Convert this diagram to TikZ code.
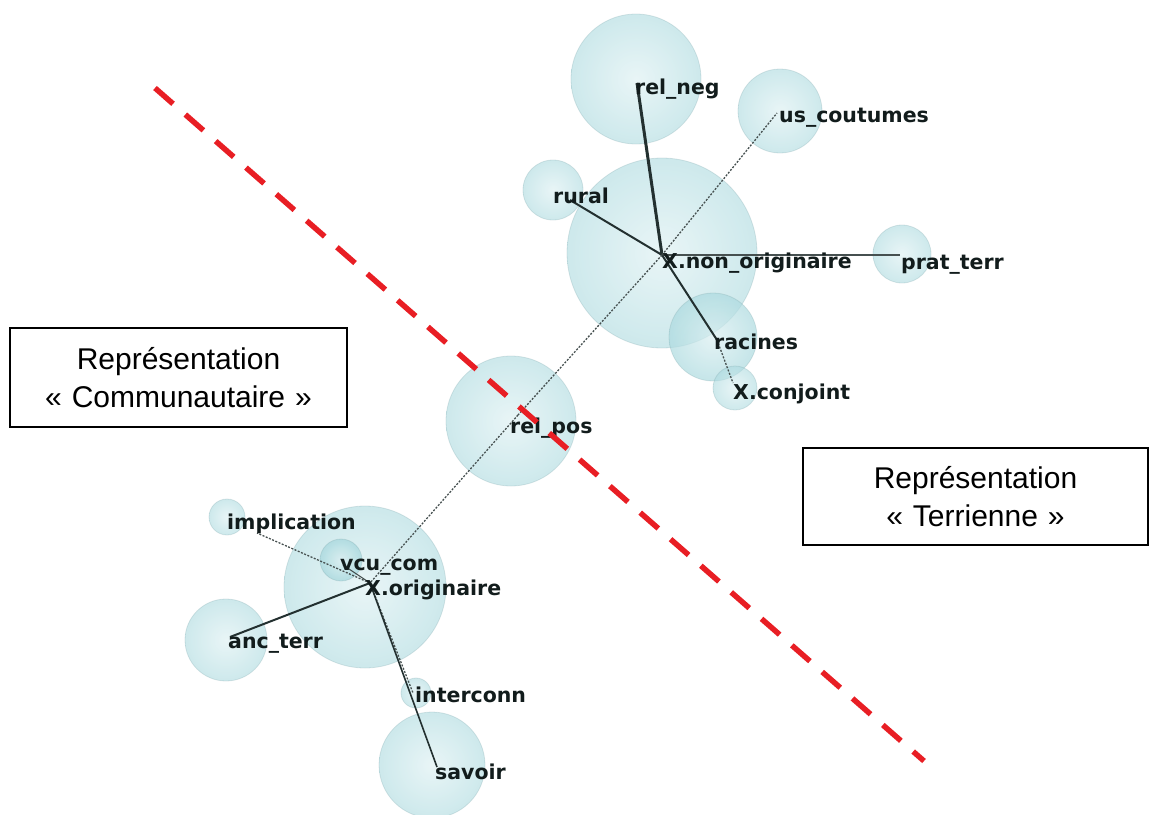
\documentclass[tikz,border=0pt]{standalone}
\usepackage{fontspec}
\setmainfont{Liberation Sans}
\newfontfamily\lblfont{DejaVu Sans}
\definecolor{bubc}{RGB}{172,218,223}
\definecolor{bubedge}{RGB}{120,160,165}
\definecolor{lblc}{RGB}{18,28,28}
\definecolor{edgec}{RGB}{35,48,48}
\definecolor{thinc}{RGB}{70,80,80}
\definecolor{redc}{RGB}{232,30,36}
\newcommand{\gsp}{\hspace{10pt}}
\begin{document}
\begin{tikzpicture}[x=1pt,y=-1pt,
  bub/.style={circle, inner sep=0, shading=radial, inner color=bubc!45!white, outer color=bubc, fill opacity=0.6, draw=bubedge, draw opacity=0.25, line width=0.8pt},
  lbl/.style={anchor=base west, inner sep=0, text=lblc, font=\lblfont\bfseries\fontsize{20.5}{22}\selectfont},
  strong/.style={draw=edgec, line width=3pt},
  med/.style={draw=edgec, line width=2pt},
  thinl/.style={draw=thinc, line width=1.1pt},
  dotl/.style={draw=thinc, line width=1.3pt, dash pattern=on 2pt off 1.5pt},
  redline/.style={draw=redc, line width=5.5pt, dash pattern=on 24pt off 16.3pt},
  box/.style={draw=black, line width=1.3pt, align=center, inner sep=0, font=\fontsize{30}{38}\selectfont}
]
\useasboundingbox (0,0) rectangle (1151,814);
% bubbles
\node[bub, minimum size=130pt] (bRelneg) at (636,79) {};
\node[bub, minimum size=84pt] (bUs) at (780,111) {};
\node[bub, minimum size=60pt] (bRural) at (553,190) {};
\node[bub, minimum size=190pt] (bHubN) at (662,253) {};
\node[bub, minimum size=58pt] (bPrat) at (902,254) {};
\node[bub, minimum size=88pt, fill opacity=0.7] (bRac) at (713,337) {};
\node[bub, minimum size=44pt] (bConj) at (735,388) {};
\node[bub, minimum size=130pt] (bRelpos) at (511,421) {};
\node[bub, minimum size=36pt] (bImpl) at (227,517) {};
\node[bub, minimum size=162pt] (bHubO) at (365,587) {};
\node[bub, minimum size=42pt, fill opacity=0.85] (bVcu) at (341,560) {};
\node[bub, minimum size=82pt] (bAnc) at (226,640) {};
\node[bub, minimum size=30pt] (bInter) at (416,693) {};
\node[bub, minimum size=106pt] (bSav) at (432,765) {};
% points
\coordinate (hubN) at (662,255);
\coordinate (pRelneg) at (637,83);
\coordinate (pUs) at (777,113);
\coordinate (pRural) at (570,200);
\coordinate (pPrat) at (900,255);
\coordinate (pRac) at (717,340);
\coordinate (pConj) at (733,383);
\coordinate (pRelpos) at (518,415);
\coordinate (hubO) at (370,583);
\coordinate (pImpl) at (257,533);
\coordinate (pVcu) at (343,565);
\coordinate (pAnc) at (230,637);
\coordinate (pInter) at (413,693);
\coordinate (pSav) at (437,767);
% connectors
\draw[strong] (hubN) -- (pRelneg);
\draw[med] (hubN) -- (pRural);
\draw[dotl] (hubN) -- (pUs);
\draw[thinl] (hubN) -- (pPrat);
\draw[med] (hubN) -- (pRac);
\draw[dotl] (pRac) -- (pConj);
\draw[dotl] (hubN) -- (pRelpos);
\draw[dotl] (pRelpos) -- (hubO);
\draw[dotl] (hubO) -- (pImpl);
\draw[thinl] (hubO) -- (pVcu);
\draw[med] (hubO) -- (pAnc);
\draw[dotl] (hubO) -- (pInter);
\draw[med, line width=1.6pt] (hubO) -- (pSav);
% labels
\node[lbl] (lRelneg) at (635,94) {rel\_neg};
\node[lbl] (lUs) at (779,122) {us\_coutumes};
\node[lbl] (lRural) at (553,203) {rural};
\node[lbl] (lHubN) at (662,268) {X.non\_originaire};
\node[lbl] (lPrat) at (901,269) {prat\_terr};
\node[lbl] (lRac) at (714,349) {racines};
\node[lbl] (lConj) at (733,399) {X.conjoint};
\node[lbl] (lRelpos) at (510,433) {rel\_pos};
\node[lbl] (lImpl) at (227,529) {implication};
\node[lbl] (lVcu) at (340,570) {vcu\_com};
\node[lbl] (lHubO) at (365,595) {X.originaire};
\node[lbl] (lAnc) at (228,648) {anc\_terr};
\node[lbl] (lInter) at (415,702) {interconn};
\node[lbl] (lSav) at (435,779) {savoir};
% red separator
\coordinate (rA) at (155,88);
\coordinate (rB) at (924,761);
\draw[redline] (rA) -- (rB);
% boxes
\node[box, minimum width=337pt, minimum height=99pt] (boxC) at (178.5,377.5) {Représentation\\«\gsp Communautaire\gsp»};
\node[box, minimum width=345pt, minimum height=97pt] (boxT) at (975.5,496.5) {Représentation\\«\gsp Terrienne\gsp»};
\end{tikzpicture}
\end{document}
